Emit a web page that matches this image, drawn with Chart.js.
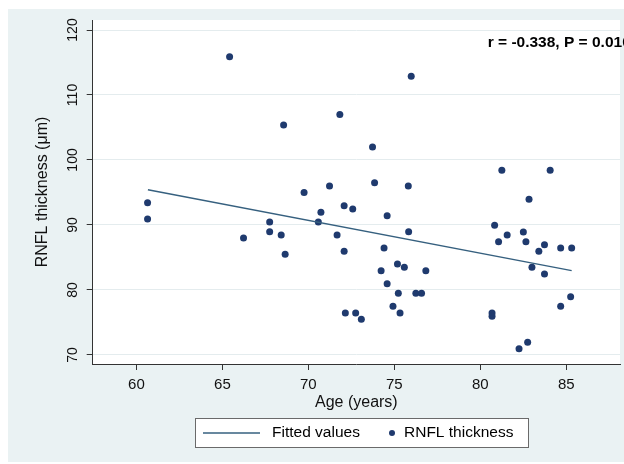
<!DOCTYPE html>
<html>
<head>
<meta charset="utf-8">
<script src="https://cdn.jsdelivr.net/npm/chart.js@4.4.1/dist/chart.umd.min.js"></script>
<style>
  html, body { margin: 0; padding: 0; background: #fff; }
  #wrap { width: 624px; height: 464px; }
</style>
</head>
<body>
<div id="wrap"><canvas id="chart" width="624" height="464"></canvas></div>
<script>
// age (years) and RNFL thickness (um)
const ages = [60.65, 60.65, 65.42, 66.23, 67.75, 67.75, 68.42, 68.56, 68.65, 69.75,
              70.58, 70.73, 71.23, 71.67, 71.83, 72.08, 72.08, 72.15, 72.58, 72.75,
              73.08, 73.73, 73.85, 74.23, 74.40, 74.58, 74.58, 74.92, 75.18, 75.23,
              75.33, 75.58, 75.81, 75.83, 75.98, 76.25, 76.58, 76.83, 80.68, 80.68,
              80.83, 81.06, 81.25, 81.56, 82.25, 82.50, 82.65, 82.75, 82.83, 83.00,
              83.40, 83.73, 83.73, 84.06, 84.67, 84.67, 85.25, 85.31];
const rnfl = [93.4, 90.9, 115.9, 88.0, 90.45, 88.95, 88.45, 105.4, 85.5, 95.0,
              90.45, 91.95, 96.0, 88.45, 107.0, 92.95, 85.95, 76.45, 92.45, 76.45,
              75.5, 102.0, 96.5, 82.95, 86.45, 91.4, 80.95, 77.5, 84.0, 79.5,
              76.45, 83.5, 96.0, 88.95, 112.9, 79.5, 79.5, 82.95, 76.45, 75.95,
              89.95, 87.4, 98.4, 88.45, 70.95, 88.9, 87.4, 71.95, 93.95, 83.5,
              85.95, 86.95, 82.45, 98.4, 86.45, 77.5, 78.95, 86.45];

// fitted line end points
const fitAges = [60.67, 85.31];
const fitValues = [95.4, 82.97];

const xTicks = [60, 65, 70, 75, 80, 85];
const yTicks = [70, 80, 90, 100, 110, 120];
const statText = 'r = -0.338, P = 0.010';

const FONT = "'Liberation Sans', Arial, sans-serif";
const NAVY = '#1f3a6e';
const LINE = '#36607f';

const scatterData = ages.map((a, i) => ({ x: a, y: rnfl[i] }));
const fitData = fitAges.map((a, i) => ({ x: a, y: fitValues[i] }));

const backdrop = {
    id: 'backdrop',
    beforeDraw(chart) {
        const { ctx, chartArea: ca } = chart;
        ctx.save();
        ctx.fillStyle = '#ffffff';
        ctx.fillRect(0, 0, chart.width, chart.height);
        ctx.fillStyle = '#eaf2f3';
        ctx.fillRect(8, 9, chart.width - 8, chart.height - 11);
        ctx.fillStyle = '#ffffff';
        ctx.fillRect(ca.left, ca.top, ca.right - ca.left, ca.bottom - ca.top);
        ctx.restore();
    }
};

const statLabel = {
    id: 'statLabel',
    afterDatasetsDraw(chart) {
        const { ctx, chartArea: ca } = chart;
        ctx.save();
        ctx.font = 'bold 15.5px ' + FONT;
        ctx.fillStyle = '#000';
        ctx.textAlign = 'left';
        ctx.textBaseline = 'middle';
        ctx.fillText(statText, ca.left + 395, ca.top + 23);
        ctx.restore();
    }
};

const boxLegend = {
    id: 'boxLegend',
    afterDraw(chart) {
        const ctx = chart.ctx;
        const fit = chart.data.datasets[0];
        const pts = chart.data.datasets[1];
        const cy = 433;
        ctx.save();
        ctx.fillStyle = '#fff';
        ctx.strokeStyle = '#6a6a6a';
        ctx.lineWidth = 1;
        ctx.fillRect(195.5, 418.5, 333, 29);
        ctx.strokeRect(195.5, 418.5, 333, 29);

        ctx.strokeStyle = fit.borderColor;
        ctx.lineWidth = 1.5;
        ctx.beginPath();
        ctx.moveTo(203, cy);
        ctx.lineTo(260, cy);
        ctx.stroke();

        ctx.fillStyle = pts.backgroundColor;
        ctx.beginPath();
        ctx.arc(392, cy, 3, 0, Math.PI * 2);
        ctx.fill();

        ctx.fillStyle = '#000';
        ctx.font = '15.5px ' + FONT;
        ctx.textBaseline = 'middle';
        ctx.textAlign = 'left';
        ctx.fillText(fit.label, 272, cy);
        ctx.fillText(pts.label, 404, cy);
        ctx.restore();
    }
};

new Chart(document.getElementById('chart'), {
    type: 'scatter',
    data: {
        datasets: [{
            type: 'line',
            label: 'Fitted values',
            data: fitData,
            borderColor: LINE,
            borderWidth: 1.5,
            pointRadius: 0,
            fill: false
        }, {
            label: 'RNFL thickness',
            data: scatterData,
            backgroundColor: NAVY,
            borderWidth: 0,
            pointRadius: 3.5
        }]
    },
    options: {
        responsive: false,
        animation: false,
        layout: { padding: { left: 0, right: 0, top: 20, bottom: 50 } },
        plugins: {
            legend: { display: false },
            tooltip: { enabled: false }
        },
        scales: {
            x: {
                type: 'linear',
                min: 57.46,
                max: 88.12,
                afterBuildTicks: s => { s.ticks = xTicks.map(v => ({ value: v })); },
                afterFit: s => { s.height = 50; },
                grid: { drawOnChartArea: false, tickLength: 6, tickColor: '#333' },
                border: { color: '#333', width: 1 },
                ticks: { font: { family: FONT, size: 15 }, color: '#111', padding: 6 },
                title: {
                    display: true,
                    text: 'Age (years)',
                    font: { family: FONT, size: 16 },
                    color: '#111',
                    padding: { top: 0, bottom: 1.4 }
                }
            },
            y: {
                type: 'linear',
                min: 68.6,
                max: 121.54,
                afterBuildTicks: s => { s.ticks = yTicks.map(v => ({ value: v })); },
                afterFit: s => { s.width = 92.7; },
                grid: { color: '#e4ecee', lineWidth: 1, tickLength: 6, tickColor: '#333' },
                border: { color: '#333', width: 1 },
                ticks: {
                    font: { family: FONT, size: 14 },
                    color: '#111',
                    minRotation: 90,
                    maxRotation: 90,
                    crossAlign: 'center',
                    padding: 2
                },
                title: {
                    display: true,
                    text: 'RNFL thickness (μm)',
                    font: { family: FONT, size: 16 },
                    color: '#111',
                    padding: { top: 33.4, bottom: 0 }
                }
            }
        }
    },
    plugins: [backdrop, statLabel, boxLegend]
});
</script>
</body>
</html>
